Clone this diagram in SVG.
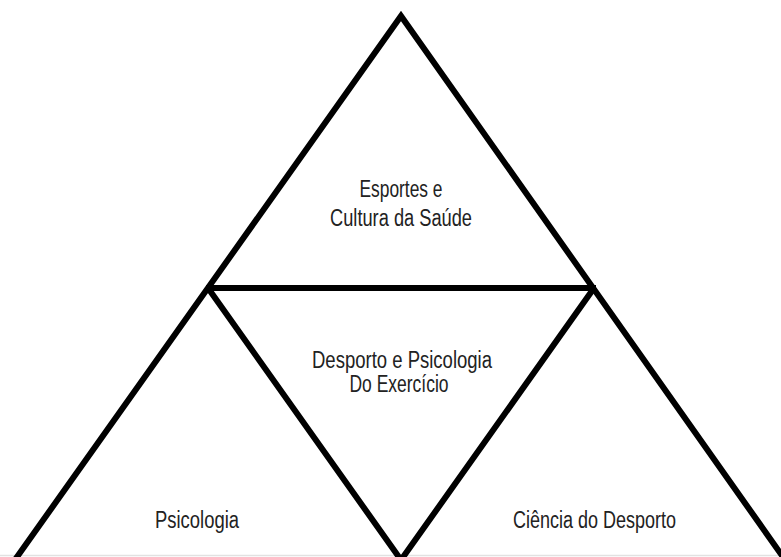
<svg xmlns="http://www.w3.org/2000/svg" width="781" height="557" viewBox="0 0 781 557">
<style>
.ln{fill:none;stroke:#000;stroke-width:6;stroke-linejoin:miter;stroke-linecap:butt}
.t{font-family:"Liberation Sans",Arial,sans-serif;font-size:23px;fill:#222;text-anchor:middle}
</style>
<rect width="781" height="557" fill="#fff"/>
<line x1="0" y1="555.5" x2="781" y2="555.5" stroke="#e2e2e2" stroke-width="1.5"/>
<g id="connectors">
<polyline class="ln" points="12,564 401,16 788,564"/>
<line class="ln" x1="206" y1="288" x2="596" y2="288"/>
<polyline class="ln" points="208,288 401,560 594,288"/>
</g>
<g id="top">
<text class="t" x="401" y="197" textLength="83" lengthAdjust="spacingAndGlyphs">Esportes e</text>
<text class="t" x="401" y="226" textLength="142" lengthAdjust="spacingAndGlyphs">Cultura da Saúde</text>
</g>
<g id="middle">
<text class="t" x="402" y="368" textLength="180" lengthAdjust="spacingAndGlyphs">Desporto e Psicologia</text>
<text class="t" x="399" y="392" textLength="99" lengthAdjust="spacingAndGlyphs">Do Exercício</text>
</g>
<g id="left">
<text class="t" x="197" y="528" textLength="84" lengthAdjust="spacingAndGlyphs">Psicologia</text>
</g>
<g id="right">
<text class="t" x="594.5" y="528" textLength="163" lengthAdjust="spacingAndGlyphs">Ciência do Desporto</text>
</g>
</svg>
